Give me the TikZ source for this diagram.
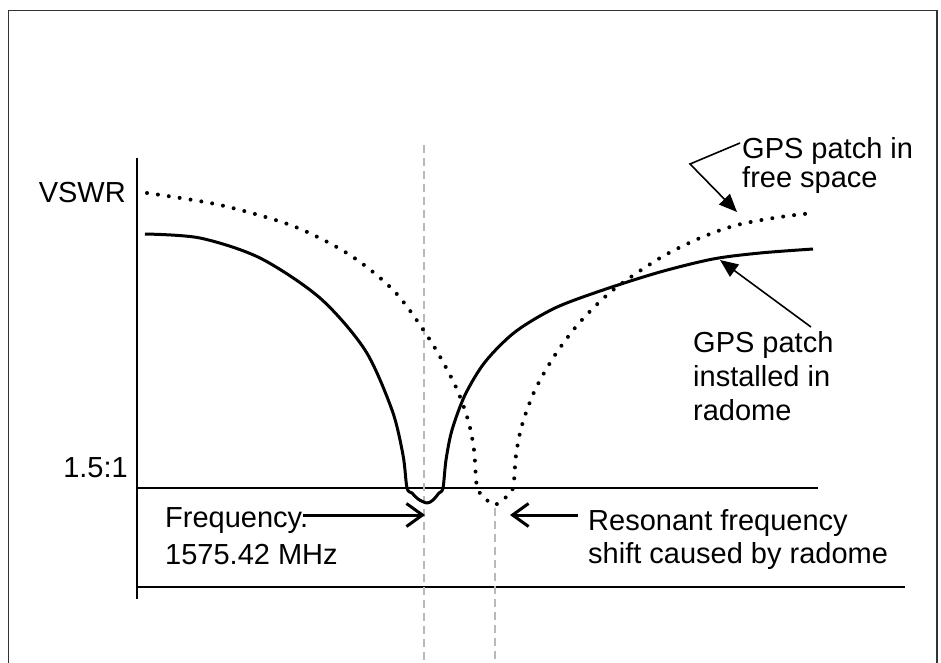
\documentclass[tikz,border=0pt]{standalone}
\usepackage{fontspec}
\setmainfont{Liberation Sans}
\usetikzlibrary{arrows.meta}
\begin{document}
\begin{tikzpicture}[x=1pt,y=-1pt,
  lbl/.style={font=\fontsize{29}{34}\selectfont, anchor=base west, inner sep=0pt, align=left},
  axisline/.style={line width=2.4pt, black},
  guide/.style={line width=1.4pt, gray!55, dash pattern=on 8pt off 5pt},
  measured/.style={line width=3pt, black, line join=round},
  freespace/.style={line width=4pt, black, line cap=round, dash pattern=on 0pt off 11pt},
  barb/.style={line width=3pt, -{Straight Barb[length=16pt,width=23pt,line width=3pt]}},
  pointer/.style={line width=1.6pt, -{Triangle[length=18pt,width=15pt]}}]

\useasboundingbox (0,0) rectangle (941,662);
\begin{scope}
  \clip (0,0) rectangle (941,662);
  \draw[line width=1.8pt, black!80] (8.5,10.5) rectangle (937,700);
\end{scope}

% axes and the 1.5:1 threshold
\coordinate (ytop) at (137,158);
\coordinate (ybot) at (137,599);
\coordinate (xl) at (137,587);
\coordinate (xr) at (905,587);
\draw[axisline] (ytop) -- (ybot);
\draw[axisline] (xl) -- (xr);
\coordinate (tl) at (137,488);
\coordinate (tr) at (818,488);
\draw[line width=1.3pt] (tl) -- (tr);

% vertical guides at the design and shifted frequencies
\coordinate (g1t) at (424,145);
\coordinate (g1b) at (424,662);
\coordinate (g2t) at (495,508);
\coordinate (g2b) at (495,662);
\draw[guide] (g1t) -- (g1b);
\draw[guide] (g2t) -- (g2b);

% axis labels
\node[lbl, anchor=base east] (vswr) at (126,202) {VSWR};
\node[lbl, anchor=base east] (ratio) at (128,477) {1.5:1};

% response of the patch in radome (solid)
\draw[measured] plot[smooth, tension=0.5] coordinates {
  (145,234) (200,238) (260,258) (320,298) (365,350) (392,410) (403,455)
  (407,488) (412,493) (418,499) (427,503) (433,500) (439,493) (443,488)
  (446,460) (452,430) (465,395) (485,362) (515,332) (555,308) (603,290)
  (660,272) (713,259) (760,253) (813,249)};

% response of the patch in free space (dotted)
\draw[freespace] plot[smooth, tension=0.5] coordinates {
  (147,193) (220,205) (293,226) (350,255) (395,292) (430,340) (455,385)
  (468,420) (474,450) (477,487) (485,498) (494,505) (505,498) (513,488)
  (516,455) (522,425) (535,390) (555,355) (580,322) (613,290) (660,258)
  (700,238) (737,225) (780,217) (813,213)};

% curve labels (anchored on the baseline of the last line)
\node[lbl] (free) at (742,187) {GPS patch in\\[-5pt]free space};
\node[lbl] (radome) at (693,420) {GPS patch\\installed in\\radome};
\coordinate (freeknee) at (690,164);
\coordinate (freetip) at (737,212);
\coordinate (freestart) at (740,143);
\draw[pointer] (freestart) -- (freeknee) -- (freetip);
\coordinate (radtail) at (811,327);
\coordinate (radtip) at (720,260);
\draw[pointer] (radtail) -- (radtip);

% frequency labels
\node[lbl] (freq) at (165,564) {Frequency.\\[3pt]1575.42 MHz};
\node[lbl] (shift) at (588,563) {Resonant frequency\\[-1pt]shift caused by radome};
\coordinate (ftail) at (303,515);
\coordinate (ftip) at (425,515);
\draw[barb] (ftail) -- (ftip);
\coordinate (stail) at (578,515);
\coordinate (stip) at (510,515);
\draw[barb] (stail) -- (stip);
\end{tikzpicture}
\end{document}
